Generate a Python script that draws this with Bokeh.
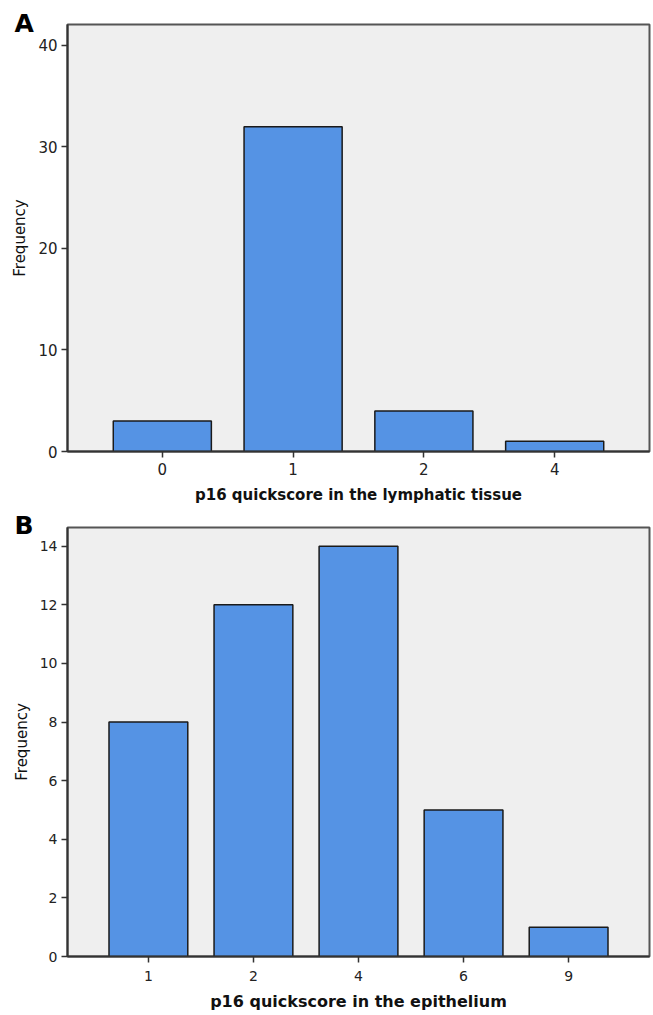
from bokeh.plotting import figure
from bokeh.models import Range1d, FixedTicker, ColumnDataSource
from bokeh.layouts import column
from bokeh.embed import file_html
from bokeh.resources import INLINE

# Panel A data
a_categories = ["0", "1", "2", "4"]
a_counts = [3, 32, 4, 1]
a_yticks = [0, 10, 20, 30, 40]
a_xlabel = "p16 quickscore in the lymphatic tissue"

# Panel B data
b_categories = ["1", "2", "4", "6", "9"]
b_counts = [8, 12, 14, 5, 1]
b_yticks = [0, 2, 4, 6, 8, 10, 12, 14]
b_xlabel = "p16 quickscore in the epithelium"

BAR = "#5593e4"
BG = "#efefef"
FONT = "DejaVu Sans"
W = 652
LEFT = 67
RIGHT = 3


def make_panel(cats, counts, yticks, ymax, xlabel, letter, height, top, bottom, pad,
               xfs, tfs, letter_standoff, tick_standoff, label_standoff):
    n = len(cats)
    p = figure(width=W, height=height, output_backend="svg", toolbar_location=None,
               x_range=Range1d(-pad, n - 1 + pad), y_range=Range1d(0, ymax),
               min_border_left=LEFT, min_border_right=RIGHT, min_border_top=top,
               min_border_bottom=bottom, title=letter)
    p.title.text_font = FONT
    p.title.text_font_style = "bold"
    p.title.text_font_size = "25px"
    p.title.text_color = "black"
    p.title.align = "left"
    p.title.offset = -(LEFT - 14)
    p.title.standoff = letter_standoff
    p.title.vertical_align = "bottom"
    p.background_fill_color = BG
    p.border_fill_color = "white"
    p.outline_line_color = "#555555"
    p.outline_line_width = 2
    p.xgrid.visible = False
    p.ygrid.visible = False
    src = ColumnDataSource(dict(x=list(range(n)), top=counts))
    p.vbar(x="x", top="top", width=0.75, source=src, fill_color=BAR,
           line_color="#1a1a1a", line_width=1.5)
    # axes
    p.xaxis.ticker = FixedTicker(ticks=list(range(n)))
    p.xaxis.major_label_overrides = {i: c for i, c in enumerate(cats)}
    p.xaxis.axis_label = xlabel
    p.xaxis.axis_label_text_font = FONT
    p.xaxis.axis_label_text_font_style = "bold"
    p.xaxis.axis_label_text_font_size = xfs
    p.xaxis.axis_label_text_color = "#111111"
    p.xaxis.axis_label_standoff = label_standoff
    p.xaxis.major_tick_in = 0
    p.xaxis.major_tick_out = 6
    p.xaxis.minor_tick_out = 0
    p.xaxis.minor_tick_in = 0
    p.xaxis.axis_line_color = "#333333"
    p.xaxis.axis_line_width = 2
    p.xaxis.major_tick_line_color = "#333333"
    p.xaxis.major_tick_line_width = 1.5
    p.xaxis.major_label_text_font = FONT
    p.xaxis.major_label_text_font_size = tfs
    p.xaxis.major_label_text_color = "#222222"
    p.xaxis.major_label_standoff = tick_standoff

    p.yaxis.ticker = FixedTicker(ticks=yticks)
    p.yaxis.axis_label = "Frequency"
    p.yaxis.axis_label_text_font = FONT
    p.yaxis.axis_label_text_font_style = "normal"
    p.yaxis.axis_label_text_font_size = "15px"
    p.yaxis.axis_label_text_color = "#111111"
    p.yaxis.axis_label_standoff = 6
    p.yaxis.major_tick_in = 0
    p.yaxis.major_tick_out = 6
    p.yaxis.minor_tick_out = 0
    p.yaxis.minor_tick_in = 0
    p.yaxis.axis_line_color = "#333333"
    p.yaxis.axis_line_width = 2
    p.yaxis.major_tick_line_color = "#333333"
    p.yaxis.major_tick_line_width = 1.5
    p.yaxis.major_label_text_font = FONT
    p.yaxis.major_label_text_font_size = tfs
    p.yaxis.major_label_text_color = "#222222"
    p.yaxis.major_label_standoff = 4
    return p


pa = make_panel(a_categories, a_counts, a_yticks, 42.06, a_xlabel, "A", 506, 24, 54,
                0.725, "15px", "15px", -26, 5, 8)
pb = make_panel(b_categories, b_counts, b_yticks, 14.64, b_xlabel, "B", 509, 21, 59,
                0.77, "16px", "14px", -24, 8, 8)

layout = column(pa, pb, spacing=0)
open("out.html", "w").write(file_html(layout, INLINE))
